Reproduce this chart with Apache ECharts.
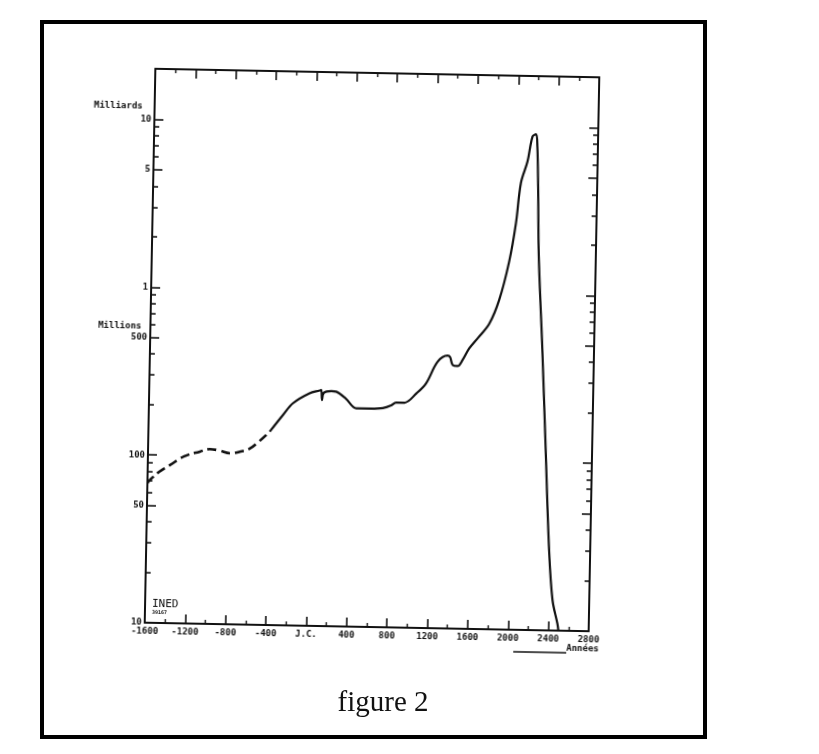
<!DOCTYPE html>
<html>
<head>
<meta charset="utf-8">
<script src="https://cdn.jsdelivr.net/npm/echarts@6/dist/echarts.min.js"></script>
<style>
  html, body { margin: 0; padding: 0; background: #ffffff; }
  #wrap { position: relative; width: 819px; height: 754px; background: #ffffff; }
  #frame, #plot { position: absolute; left: 0; top: 0; width: 819px; height: 754px; }
  #plot { transform: rotate(1.1deg); transform-origin: 372px 350px; }
</style>
</head>
<body>
<div id="wrap">
  <div id="frame"></div>
  <div id="plot"></div>
</div>
<script>
// ---- data (population in millions) ----
const dashedYears = [-1600, -1575, -1480, -1380, -1240, -1086, -988, -890, -789, -690, -592, -500, -398];
const dashedPop   = [68, 71, 80, 87.5, 99, 106, 110, 108, 104.5, 107, 112, 124, 142];

const solidYears = [-398, -270, -173, -10, 89, 105, 114, 130, 205, 254, 350, 455, 600, 718, 800, 849, 931, 1050, 1142, 1253, 1350, 1375, 1402, 1451, 1500, 1564, 1650, 1757, 1851, 1943, 2002, 2044, 2105, 2150, 2185, 2200, 2215, 2235, 2288, 2340, 2393, 2436, 2489, 2500];
const solidPop   = [142, 179, 211, 243, 253, 255, 222, 245, 252, 250, 228, 200, 200, 202, 210, 219, 219, 250, 287, 388, 423, 415, 372, 367, 400, 470, 545, 661, 920, 1567, 2640, 4610, 6180, 8710, 9000, 7600, 4400, 1690, 468, 119, 30, 15.2, 11, 10];

const xTickValues = [-1600, -1200, -800, -400, 0, 400, 800, 1200, 1600, 2000, 2400, 2800];
const xTickTexts  = ['-1600', '-1200', '-800', '-400', 'J.C.', '400', '800', '1200', '1600', '2000', '2400', '2800'];
const yMajorValues = [10, 50, 100, 500, 1000, 5000, 10000];
const yMajorTexts  = ['10', '50', '100', '500', '1', '5', '10'];
const yMinorValues = [20, 30, 40, 60, 70, 80, 90, 200, 300, 400, 600, 700, 800, 900, 2000, 3000, 4000, 6000, 7000, 8000, 9000];

const INK = '#111111';
const FONT = '"DejaVu Sans Mono", monospace';

// ---- outer frame and caption ----
const frame = echarts.init(document.getElementById('frame'), null, { renderer: 'canvas' });
frame.setOption({
  backgroundColor: '#ffffff',
  animation: false,
  graphic: [
    { type: 'rect', shape: { x: 42, y: 22, width: 663, height: 715 },
      style: { fill: 'none', stroke: '#000', lineWidth: 4 } },
    { type: 'text', x: 383, y: 703,
      style: { text: 'figure 2', font: '29px "Liberation Serif", serif', fill: '#111',
               align: 'center', verticalAlign: 'middle' } }
  ]
});

// ---- plot ----
const xLabelMap = {};
xTickValues.forEach((v, i) => { xLabelMap[v] = xTickTexts[i]; });
const yLabelMap = {};
yMajorValues.forEach((v, i) => { yLabelMap[v] = yMajorTexts[i]; });

const zip = (xs, ys) => xs.map((x, i) => [x, ys[i]]);

const plot = echarts.init(document.getElementById('plot'), null, { renderer: 'canvas' });

const commonX = {
  type: 'value', min: -1600, max: 2800, interval: 400,
  splitLine: { show: false },
  axisLine: { onZero: false, lineStyle: { color: INK, width: 2 } },
  axisTick: { inside: true, length: 9, lineStyle: { color: INK, width: 1.6 } },
  minorTick: { show: true, splitNumber: 2, length: 4, lineStyle: { color: INK, width: 1.4 } }
};

function yAxisDef(position, major, withLabel) {
  return {
    type: 'log', logBase: 10, min: 10, max: 20000, position: position,
    splitLine: { show: false },
    axisLine: { show: major, onZero: false, lineStyle: { color: INK, width: 2 } },
    axisTick: { inside: true, length: major ? 9 : 5,
                customValues: major ? yMajorValues : yMinorValues,
                lineStyle: { color: INK, width: 1.6 } },
    axisLabel: withLabel ? {
      customValues: yMajorValues, margin: 3,
      formatter: v => yLabelMap[v] !== undefined ? yLabelMap[v] : '',
      color: INK, fontFamily: FONT, fontSize: 9, fontWeight: 'bold'
    } : { show: false }
  };
}

plot.setOption({
  animation: false,
  grid: { left: 150, right: 225, top: 73, bottom: 127, containLabel: false },
  xAxis: [
    Object.assign({}, commonX, {
      position: 'bottom',
      axisLabel: { formatter: v => xLabelMap[v] !== undefined ? xLabelMap[v] : '',
                   margin: 4, color: INK, fontFamily: FONT, fontSize: 9, fontWeight: 'bold' }
    }),
    Object.assign({}, commonX, { position: 'top', axisLabel: { show: false } })
  ],
  yAxis: [
    yAxisDef('left', true, true),
    yAxisDef('left', false, false),
    yAxisDef('right', true, false),
    yAxisDef('right', false, false)
  ],
  series: [
    { type: 'line', name: 'estimé', xAxisIndex: 0, yAxisIndex: 0,
      data: zip(dashedYears, dashedPop), showSymbol: false, symbol: 'none',
      smooth: 0.4,
      lineStyle: { color: INK, width: 2.6, type: [9, 5] } },
    { type: 'line', name: 'population', xAxisIndex: 0, yAxisIndex: 0,
      data: zip(solidYears, solidPop), showSymbol: false, symbol: 'none',
      smooth: 0.35,
      lineStyle: { color: INK, width: 2.2 } }
  ],
  graphic: [
    { type: 'text', x: 138, y: 111,
      style: { text: 'Milliards', font: 'bold 9px ' + FONT, fill: INK, align: 'right', verticalAlign: 'middle' } },
    { type: 'text', x: 141, y: 331,
      style: { text: 'Millions', font: 'bold 9px ' + FONT, fill: INK, align: 'right', verticalAlign: 'middle' } },
    { type: 'text', x: 157, y: 603,
      style: { text: 'INED', font: '11px ' + FONT, fill: INK, align: 'left', verticalAlign: 'top' } },
    { type: 'text', x: 157, y: 614,
      style: { text: '39167', font: 'bold 5px ' + FONT, fill: INK, align: 'left', verticalAlign: 'top' } },
    { type: 'line', shape: { x1: 519, y1: 649, x2: 572, y2: 649 },
      style: { stroke: INK, lineWidth: 1.4 } },
    { type: 'text', x: 572, y: 645,
      style: { text: 'Années', font: 'bold 9px ' + FONT, fill: INK, align: 'left', verticalAlign: 'middle' } }
  ]
});
</script>
</body>
</html>
